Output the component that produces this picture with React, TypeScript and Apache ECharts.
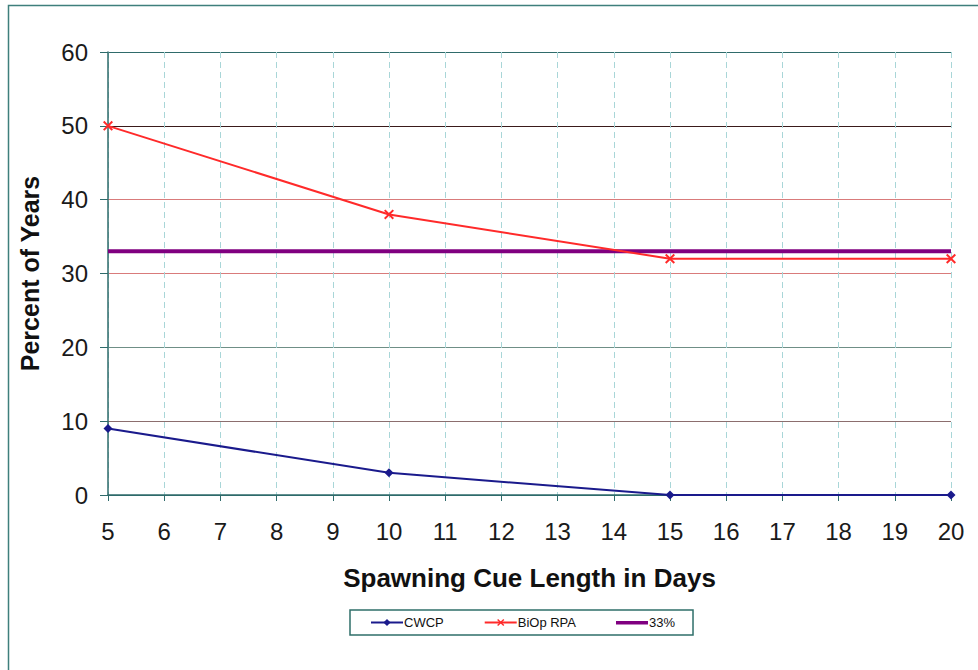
import React, { useEffect, useRef } from "react";
import * as echarts from "echarts";

// Spawning cue length (days) at which each alternative is evaluated
const cueDays = [5, 10, 15, 20];
const cwcpValues = [9, 3, 0, 0];
const biopValues = [50, 38, 32, 32];
const thresholdValues = [33, 33];
const thresholdDays = [5, 20];
const yTicks = { min: 0, max: 60, step: 10 };
const xTicks = { min: 5, max: 20, step: 1 };

const FONT = "'Liberation Sans', Arial, Helvetica, sans-serif";
const X_MARK = "path://M0,1.4 L1.4,0 L5,3.6 L8.6,0 L10,1.4 L6.4,5 L10,8.6 L8.6,10 L5,6.4 L1.4,10 L0,8.6 L3.6,5 Z";
// plain thick bar for the legend key of the threshold line (zero-length moves keep the full key height)
const BAR_KEY = "path://M0,0 L0,0 M0,9 L0,9 M0,3 L32,3 L32,6.5 L0,6.5 Z";

export default function App() {
  const ref = useRef<HTMLDivElement>(null);

  useEffect(() => {
    if (!ref.current) return;
    const chart = echarts.init(ref.current, undefined, { renderer: "svg" });

    const pairs = (xs: number[], ys: number[]) => xs.map((x, i) => [x, ys[i]]);

    chart.setOption({
      animation: false,
      backgroundColor: "#ffffff",
      textStyle: { fontFamily: FONT },
      graphic: [
        {
          type: "rect",
          shape: { x: 8.5, y: 5.5, width: 990, height: 690 },
          style: { fill: "none", stroke: "#3f7f7c", lineWidth: 1.5 },
          silent: true,
        },
      ],
      grid: { left: 108, right: 27, top: 52, bottom: 175, containLabel: false },
      legend: {
        left: 350,
        top: 610,
        padding: [6, 18, 6, 20],
        itemGap: 40,
        itemWidth: 32,
        itemHeight: 9,
        borderColor: "#2f6f6a",
        borderWidth: 1.5,
        borderRadius: 0,
        textStyle: { fontFamily: FONT, fontSize: 13, color: "#111", padding: [0, 0, 0, -4] },
        data: ["CWCP", "BiOp RPA", { name: "33%", icon: BAR_KEY }],
      },
      xAxis: {
        type: "value",
        min: xTicks.min,
        max: xTicks.max,
        interval: xTicks.step,
        name: "Spawning Cue Length in Days",
        nameLocation: "middle",
        nameGap: 70,
        nameTextStyle: { fontFamily: FONT, fontSize: 26, fontWeight: "bold", color: "#111" },
        axisLine: { onZero: false, lineStyle: { color: "#2f6b6b", width: 1.5 } },
        axisTick: { length: 6, lineStyle: { color: "#2f6b6b" } },
        axisLabel: { fontFamily: FONT, fontSize: 24, color: "#1a1a1a", margin: 24 },
        splitLine: { show: true, lineStyle: { color: "#a9d6d8", type: [6, 4], width: 1 } },
      },
      yAxis: {
        type: "value",
        min: yTicks.min,
        max: yTicks.max,
        interval: yTicks.step,
        name: "Percent of Years",
        nameLocation: "middle",
        nameGap: 66,
        nameTextStyle: { fontFamily: FONT, fontSize: 25, fontWeight: "bold", color: "#111" },
        axisLine: { show: true, lineStyle: { color: "#2f6b6b", width: 1.5 } },
        axisTick: { show: true, length: 8, lineStyle: { color: "#2f6b6b" } },
        axisLabel: { fontFamily: FONT, fontSize: 24, color: "#1a1a1a", margin: 20 },
        splitLine: {
          show: true,
          lineStyle: {
            color: ["#2f6b6b", "#8c6e6e", "#6f8f86", "#d97b7b", "#d97b7b", "#3a1a1a", "#2f6b6b"],
            width: 1,
          },
        },
      },
      series: [
        {
          name: "CWCP",
          type: "line",
          data: pairs(cueDays, cwcpValues),
          symbol: "diamond",
          symbolSize: 9,
          lineStyle: { color: "#1a1a8c", width: 2 },
          itemStyle: { color: "#1a1a8c" },
          z: 3,
        },
        {
          name: "BiOp RPA",
          type: "line",
          data: pairs(cueDays, biopValues),
          symbol: X_MARK,
          symbolSize: 10,
          lineStyle: { color: "#ff2a2a", width: 2 },
          itemStyle: { color: "#ff2a2a" },
          z: 3,
        },
        {
          name: "33%",
          type: "line",
          data: pairs(thresholdDays, thresholdValues),
          symbol: "none",
          lineStyle: { color: "#800080", width: 4 },
          itemStyle: { color: "#800080" },
          z: 2,
        },
      ],
    });

    return () => chart.dispose();
  }, []);

  return (
    <div
      ref={ref}
      style={{ position: "fixed", left: 0, top: 0, width: 978, height: 670, background: "#fff" }}
    />
  );
}
